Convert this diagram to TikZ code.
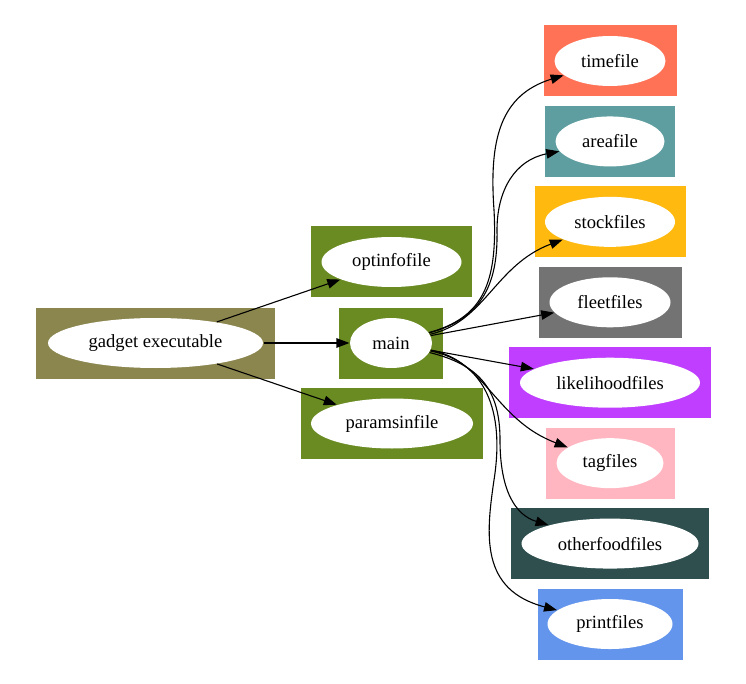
\documentclass[tikz,border=0pt]{standalone}
\usepackage{fontspec}
\setmainfont{Liberation Serif}
\usepackage{tikz}
\usetikzlibrary{shapes.geometric,arrows.meta,calc}
\definecolor{khakifour}{HTML}{8B864E}
\definecolor{olivefour}{HTML}{698B22}
\definecolor{tomatored}{HTML}{FF7256}
\definecolor{cadetblue}{HTML}{5F9EA0}
\definecolor{goldenrod}{HTML}{FFB90F}
\definecolor{grayfive}{HTML}{737373}
\definecolor{orchidone}{HTML}{BF3EFF}
\definecolor{lightpink}{HTML}{FFB6C1}
\definecolor{slategray}{HTML}{2F4F4F}
\definecolor{cornflower}{HTML}{6495ED}

\begin{document}
\begin{tikzpicture}[
x=1pt,y=-1pt,
box/.style={
  rectangle,
  draw=none,
  minimum height=71pt,
  inner sep=0pt
  },
oval/.style={
  ellipse,
  fill=white,
  minimum height=50pt,
  inner sep=0pt,
  font=\fontsize{18.6}{22}\selectfont
  },
>={Triangle[length=13pt,width=9.5pt]},
every path/.style={line width=1.1pt}
]
\useasboundingbox (0,0) rectangle (746,684);
% left column
\node[box,fill=khakifour,minimum width=239pt] (gadget-box) at (155.5,343) {};
\node[oval,minimum width=215pt] (gadget) at (gadget-box) {gadget executable};
\node[box,fill=olivefour,minimum width=161pt] (optinfofile-box) at (391.5,262) {};
\node[oval,minimum width=140pt] (optinfofile) at (optinfofile-box) {optinfofile};
\node[box,fill=olivefour,minimum width=104pt] (main-box) at (391,343) {};
\node[oval,minimum width=82pt] (main) at (main-box) {main};
\node[box,fill=olivefour,minimum width=182pt] (paramsinfile-box) at (392,423.5) {};
\node[oval,minimum width=162pt] (paramsinfile) at (paramsinfile-box) {paramsinfile};
% right column
\foreach \name/\col/\bw/\ew [count=\i] in {
  timefile/tomatored/133/111,
  areafile/cadetblue/130/109,
  stockfiles/goldenrod/151/130,
  fleetfiles/grayfive/143/121,
  likelihoodfiles/orchidone/202/180,
  tagfiles/lightpink/129/107,
  otherfoodfiles/slategray/198/177,
  printfiles/cornflower/145/125}
{
  \node[box,fill=\col,minimum width=\bw pt] (\name-box) at (610,{61+80.43*(\i-1)}) {};
  \node[oval,minimum width=\ew pt] (\name) at (\name-box) {\name};
}
% edges
\foreach \tgt in {optinfofile,main,paramsinfile}
  \draw[->] (gadget) -- (\tgt);
\foreach \tgt in {fleetfiles,likelihoodfiles}
  \draw[->] (main) -- (\tgt);
\foreach \tgt/\ca/\cb in {
  stockfiles/{(485,322)}/{(495,265)},
  tagfiles/{(485,360)}/{(495,420)}}
  \draw[->] (main) .. controls \ca and \cb .. (\tgt);
% s-shaped edges
\draw[->] (main) .. controls (482,318) and (498,285) .. (494,210)
  .. controls (489,140) and (500,95) .. (timefile);
\draw[->] (main) .. controls (485,318) and (498,280) .. (497,230)
  .. controls (497,190) and (515,160) .. (areafile);
\draw[->] (main) .. controls (480,365) and (500,390) .. (500,440)
  .. controls (500,490) and (515,515) .. (otherfoodfiles);
\draw[->] (main) .. controls (485,362) and (505,410) .. (494,480)
  .. controls (486,535) and (480,590) .. (printfiles);
\end{tikzpicture}
\end{document}
